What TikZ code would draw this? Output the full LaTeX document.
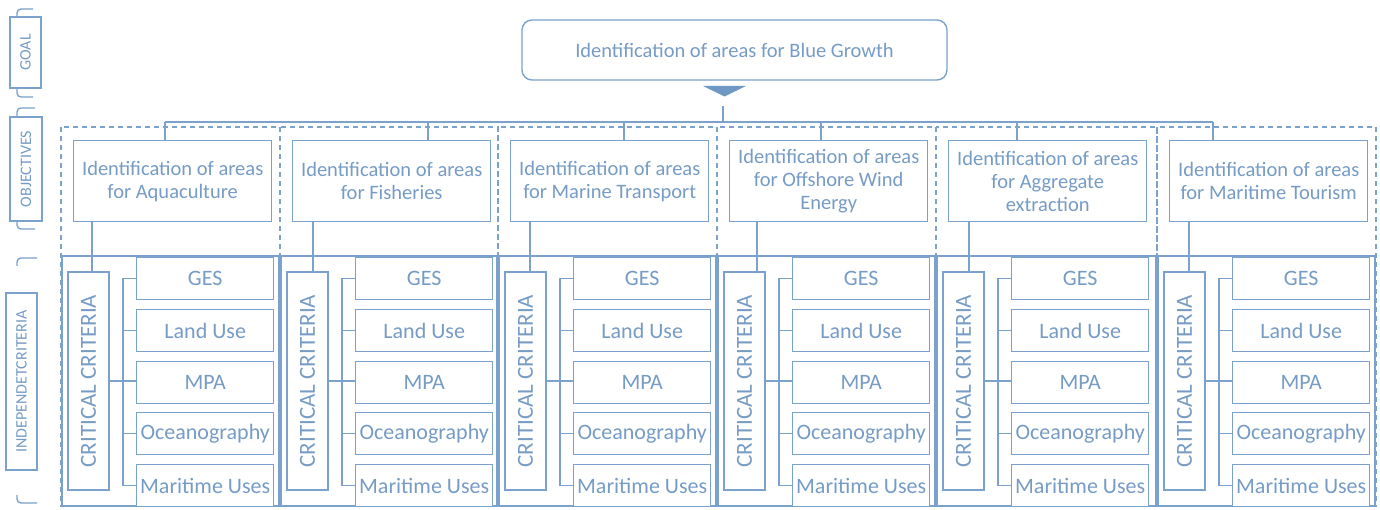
\documentclass[tikz,border=0pt]{standalone}
\usepackage{fontspec}
\setmainfont{Carlito}
\usepackage{graphicx}
\definecolor{bline}{RGB}{122,162,204}
\definecolor{btext}{RGB}{118,156,198}
\definecolor{bfill}{RGB}{112,152,196}
\tikzset{
  ln/.style={draw=bline, line width=1.4pt},
  goalbox/.style={ln, rounded corners=10pt, fill=white, minimum width=425pt, minimum height=60pt, inner sep=0pt, text=btext, font=\fontsize{20.5}{23}\selectfont},
  objbox/.style={ln, fill=white, minimum width=198pt, minimum height=81pt, inner sep=0pt, align=center, text=btext, font=\fontsize{20.5}{23}\selectfont},
  subbox/.style={ln, fill=white, minimum width=137pt, minimum height=42pt, inner sep=0pt, text=btext, font=\fontsize{22}{24}\selectfont},
  critbox/.style={ln, fill=white, minimum width=41pt, minimum height=218pt, inner sep=0pt, text=btext, font=\fontsize{23}{25}\selectfont},
  sidebox/.style={ln, fill=white, inner sep=0pt, text=btext, font=\fontsize{16}{18}\selectfont},
  dashbox/.style={draw=bline, line width=1.4pt, dash pattern=on 5pt off 4pt},
  bracket/.style={draw=bline, line width=1.4pt, rounded corners=4pt}
}
\begin{document}
\begin{tikzpicture}[x=1pt,y=-1pt]
\useasboundingbox (0,0) rectangle (1380,510);
% left brackets and labels
\draw[bracket] (33,9) -- (17,9) -- (17,17);
\draw[bracket] (17,89) -- (17,97) -- (33,97);
\node[sidebox, minimum width=31pt, minimum height=71pt] (lgoal) at (25.5,52.5) {\rotatebox{90}{GOAL}};
\draw[bracket] (35,108) -- (17,108) -- (17,117);
\draw[bracket] (17,221) -- (17,229) -- (35,229);
\node[sidebox, minimum width=32pt, minimum height=104pt] (lobj) at (26,169) {\rotatebox{90}{OBJECTIVES}};
\draw[bracket] (37,258) -- (17,258) -- (17,266);
\draw[bracket] (17,495) -- (17,503) -- (37,503);
\node[sidebox, minimum width=31pt, minimum height=177pt] (lind) at (21.5,381.5) {\rotatebox{90}{INDEPENDETCRITERIA}};
% goal
\node[goalbox] (goal) at (734.5,50) {Identification of areas for Blue Growth};
\fill[bfill] (703,86) -- (746,86) -- (724.5,96.5) -- cycle;
\coordinate (stem) at (723,106);
% columns
\foreach \i/\L/\R/\ts/\ds/\txt in {
 1/61/280/165/92/{Identification of areas\\for Aquaculture},
 2/280/498/428/313/{Identification of areas\\for Fisheries},
 3/498/717/624/530/{Identification of areas\\for Marine Transport},
 4/717/936/821/757/{Identification of areas\\for Offshore Wind\\Energy},
 5/936/1157/1017/969/{Identification of areas\\for Aggregate\\extraction},
 6/1157/1376/1213/1189/{Identification of areas\\for Maritime Tourism}}{
  \draw[dashbox] (\L,127) rectangle (\R,506);
  \draw[ln] (\L+1,256) rectangle (\R-1,506);
  \node[objbox, anchor=north west] (obj\i) at (\L+12,140) {\txt};
  \coordinate (ts\i) at (\ts,122);
  \draw[ln] (ts\i) -- (ts\i |- obj\i.north);
  \node[critbox] (crit\i) at (\L+27.5,381) {\rotatebox{90}{CRITICAL CRITERIA}};
  \coordinate (ds\i) at (\ds,0);
  \draw[ln] (obj\i.south -| ds\i) -- (crit\i.north -| ds\i);
  \node[subbox, anchor=north west] (ges\i) at (\L+75,257) {GES};
  \node[subbox, anchor=north west] (land\i) at (\L+75,309) {Land Use};
  \node[subbox, anchor=north west] (mpa\i) at (\L+75,361) {MPA};
  \node[subbox, anchor=north west] (ocean\i) at (\L+75,412) {Oceanography};
  \node[subbox, anchor=north west] (mar\i) at (\L+75,464) {Maritime Uses};
  \draw[ln] (ges\i.west) -- ++(-13,0) |- (mar\i.west);
  \draw[ln] (land\i.west) -- ++(-13,0);
  \draw[ln] (ocean\i.west) -- ++(-13,0);
  \draw[ln] (crit\i.east) -- (crit\i.east -| mpa\i.west);
}
\draw[ln] (ts1) -- (ts6);
\draw[ln] (stem) -- (stem |- ts1);
\end{tikzpicture}
\end{document}
